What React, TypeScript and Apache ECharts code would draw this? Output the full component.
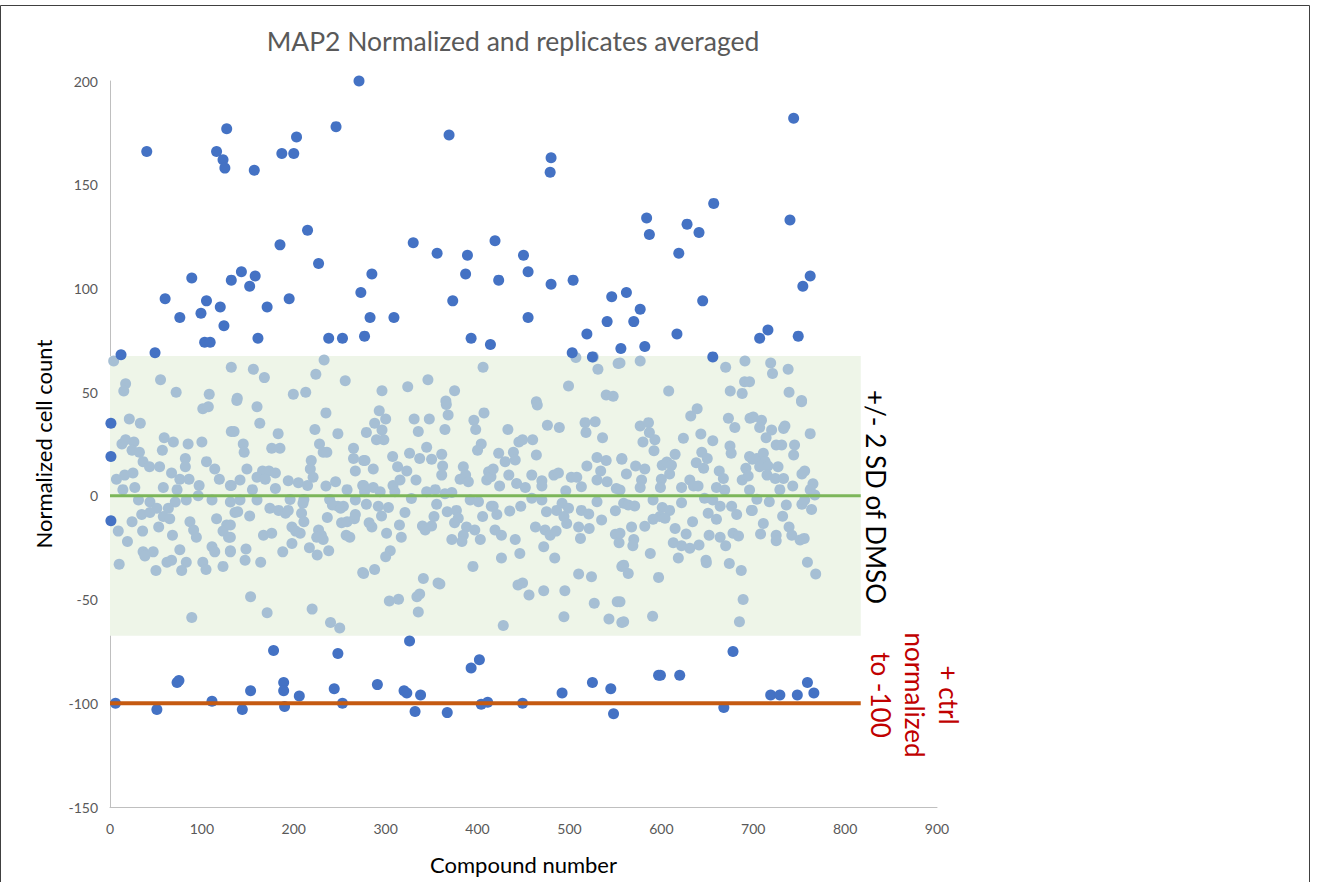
import React, { useEffect, useRef } from "react";
import * as echarts from "echarts";

// ---- data ----
const titleText = "MAP2 Normalized and replicates averaged";
const xTicks = { min: 0, max: 900, interval: 100 };
const yTicks = { min: -150, max: 200, interval: 50 };
const dmsoMean = 0;
const dmso2SD = 67.4;
const ctrlLevel = -100;
const refLineExtent = [0, 817];

// compounds inside +/- 2 SD of DMSO (compound number, normalized count)
const inBand: number[][] = [
  [17,54],[15,50.5],[55,56],[72,50],[108,49],[132,62],[4,65],
  [101,42],[107,43],[21,37],[33,35],[132,31],[132,5],
  [13,25],[17,27],[26,26],[24,22],[32,21],[59,28],[69,26],[57,22],[85,25],[100,26],[82,18],[82,14],[105,16.5],[114,13],[119,8],[36,16.5],[43,14],[54,14],[67,11],[76,8],[86,8],[7,8],[16,10],[25,11],[14,3],[27,4],[58,4],[73,3],[97,5],[31,-2],[43.5,-3],[71,-3],[83,-2],[96,0],[111,-2],[51,-6],[63.5,-6],[24,-12.5],[34.5,-9],[43.5,-8],[58,-10],[65,-11],[9,-17],[35.5,-17],[53,-15],[87,-12.5],[91,-16.5],[94,-20],[116,-11],[127,-14],[123,-17],[129,-20],[136,-8],[19,-22],[68,-19],[76,-26],[36,-27],[47,-27],[38,-29],[62,-32],[67,-31],[83,-32],[78,-36],[101,-32],[104.5,-35.5],[111,-24.5],[114,-27],[123,-34],[131,-26.5],[10,-33],[50,-36],[89,-58.6],
  [156,61],[168,57],[233,65.5],[224,58.6],[256,55.5],[138.5,47],[199.5,49],[213,50],
  [138,46],[160,43],[163,35],[235,40],[135,31],[183,30],[223,32],[248,30],[145,25],[146,21],[176,23],[185,23],[228,25],[232,21],[236,21],[265,23],[265,18],[276,17],[267,12],[219,17],[218,13],[221,9],[149,13],[166,12],[173,12],[180,11],[160,9],[169,8],[141.5,7.6],[131,5],[155,3],[180,3.6],[194,7.3],[205,6.3],[215,5],[235,4.7],[245.5,6.8],[258,3],[275,5],[277,2],[131,-3],[141.5,-2],[160,-2],[196,-1.7],[211,-1.7],[239,-1.7],[248,-5],[254,-5],[267,-2],[139,-7.7],[152,-9.7],[174,-6],[183.5,-7],[191,-8.4],[194,-7],[210,-3.6],[208.5,-8.4],[211,-12.5],[242,-4.4],[251,-6],[252,-13],[258,-12.5],[266,-11],[267,-9],[236.5,-10.4],[131,-14],[131,-20],[167,-19],[176,-18],[198,-15],[202,-17],[207,-18],[198,-23],[227,-16.5],[230,-19],[225,-20],[232,-21],[257,-19],[261,-20],[217,-25],[225.5,-28.5],[238,-26.5],[131,-27],[148,-25.6],[147,-31],[188,-27],[164,-32],[275,-37],[153,-48.6],[171,-56.4],[220,-54.6],[240,-61],[250,-63.7],
  [296,50.7],[324,52.6],[346,56],[375,50.7],[365.5,45.7],[406,62],
  [293,41],[279,30.6],[288,35],[296,31.7],[300,37],[290,27],[298,27],[331,37],[347.5,37],[335.5,31],[366,44],[368,39],[364.5,32],[396,36.5],[398,32],[407,40],[404,25],[400,22],[277.5,17],[286.5,13],[307.6,19],[313,14],[323,12],[326,20.5],[337,18],[344.6,23.4],[350,17.6],[361,20],[362,14.4],[361,10],[384.5,14],[381,8],[387,10],[390,6.8],[412,11.6],[410,7.6],[414.6,9.2],[276,5],[286.5,4],[294,2],[308,5],[315.6,7.6],[310,2],[333,7.6],[328,-1.3],[344.6,2],[354,3],[364.5,1],[372,1.6],[392,-2],[401,-2.8],[279,-4],[292,-5],[303,-5.6],[295.5,-9.7],[321,-8],[355.5,-4],[367,-7.7],[377,-7],[379,-10.8],[375,-13],[415,-5],[405.5,-10],[285,-15],[282,-13],[315,-14],[317,-20],[301,-18],[340,-14.5],[343,-16.5],[350,-14.5],[352.6,-10],[388,-15],[397,-16.5],[384.5,-19],[383,-22],[372,-21],[403,-21],[305,-26.5],[300,-29.4],[276,-37.4],[288,-35.5],[341,-39.8],[357,-42],[359,-42.5],[395,-34],[304,-50.7],[314,-49.8],[334,-48.6],[337,-47.3],[335.5,-56],
  [507,66.7],[526,67],[531,61],[553,63.8],[499,53],[540,48.6],[547.6,48],[464,45.4],
  [465,43.8],[433,32],[445,26],[449,27],[460,27],[476,34],[489,33],[517,35.3],[528,35.7],[518,30.6],[536,28],[423,20.5],[439,21],[464,19.7],[417,13],[430,16.5],[441,17.3],[434,10],[459,10],[470,7.3],[424,4.7],[442.5,6],[452,4],[470,4.7],[483,10],[488,11],[502,9],[508,9],[513,4.4],[496,2.5],[519,14.4],[530,18.5],[540,17],[534,12],[530,7.6],[541,6.8],[551,3.6],[557,17.6],[417,-5],[421,-9],[435,-7.3],[447,-5],[459,-1.2],[470,-2],[475,-7.7],[486,-7],[492,-3.6],[499,-6],[494,-10],[513,-7],[521,-8.8],[530,-2.8],[535,-11.6],[550,-7.2],[559,-3.6],[419,-16.5],[426,-19],[441,-21],[463,-15],[473.5,-16.5],[479,-19],[485.5,-17],[497,-13.3],[510,-15],[512,-20.5],[521.5,-15.7],[550,-18.5],[554,-22.6],[472,-24.5],[484,-30],[426,-30],[446,-27.8],[510,-37.7],[524,-39],[444,-43],[449,-42],[456,-47.8],[472,-45.7],[495,-45.7],[527,-51.8],[552,-51],[494,-58.3],[543,-59.4],[557,-61],[428,-62.5],[557,-34],
  [555,64],[577,65],[670,62],[691,65],[690.6,55],[688,49.4],[608,50.6],[675,50.6],
  [639,42],[632,38.5],[673,37.4],[680,33],[696.5,37.4],[577,33.7],[586,35.3],[587,30.5],[580,26],[593,27],[592,21.7],[624,27.8],[643,29.8],[656,26.6],[674.7,24],[676,20.5],[557,18],[562,10.5],[572,14.4],[582,13],[578.5,7.6],[577,4],[601,14.8],[606,16.3],[611,14.8],[609,10.5],[600,8],[599,4],[615,20],[644,21],[650,18],[638,16],[646,13.3],[622,4],[631,7.6],[635,4.7],[640,4.7],[663,12],[667.5,8.4],[660,4],[669,2.8],[692,13.3],[688,7.6],[694.5,9.6],[699,17.6],[555,2.8],[564,-4.4],[571,-4.9],[591,-2],[622,-3.3],[601,-5.6],[609,-7],[598.5,-10],[604,-10.8],[647,-1.2],[656,-2],[664,-5],[651,-8.4],[660,-11.3],[676.5,-5],[682,-9],[698,-7],[582,-14.6],[591,-11.3],[567.6,-15],[555,-18],[570,-21],[569,-24],[615,-15.7],[627,-18.4],[613,-22.6],[622,-24],[631,-25.3],[641,-23.7],[634,-12.5],[652,-19],[664,-20],[670,-24],[678,-18],[684,-19.4],[588,-27.8],[597,-39.3],[618.5,-30],[648.6,-31],[649,-32.2],[674,-32.6],[687,-36],[559,-33.4],[564,-37.4],[555,-51],[559,-60.7],[590.5,-58],[685,-60.7],[689,-50],
  [719,64],[721,59],[738,61],[739,50],[752.6,46],[696,55],
  [752.6,45.4],[700,38],[709,36.5],[707,33],[720,31.7],[714,28],[733,32.5],[734.5,33.7],[762,30],[725,24.5],[731,24.5],[745,24.5],[744,19.7],[696,19],[704,18],[711,20.5],[713,16.5],[707,14],[716,14.4],[727,14],[715,10],[724,8.4],[733,8.4],[743,4.7],[753,10.5],[756,12],[765,5.8],[762,3],[729,3],[696,2.8],[704,-1.6],[717.5,-2.8],[736,-4.4],[753,-4],[756,-2],[767,0.4],[699,-7],[732,-9.8],[763.5,-6.6],[711,-13.3],[708,-18.4],[739,-15],[725,-19],[725,-21.6],[742,-19],[751,-21.3],[755.5,-20.5],[759,-32],[768,-37.7],
];

// hits above the band
const hitsHigh: number[][] = [
  [1,35],[1,19],[1,-12],
  [12,68],[40,166],[49,69],[60,95],[76,86],[89,105],[99,88],[103,74],[105,94],[109,74],[116,166],[120,91],[123,162],[125,158],[124,82],[127,177],[132,104],[143,108],[152,101],[157,157],[158,106],[161,76],[171,91],[185,121],[187,165],[195,95],[200,165],[203,173],[215,128],[227,112],[238,76],[246,178],[253,76],[271,200],[273,98],[277,77],[283,86],[285,107],[309,86],[330,122],[356,117],[369,174],[373,94],[387,107],[389,116],[393,76],[414,73],[419,123],[423,104],[450,116],[455,108],[455,86],[480,163],[479,156],[480,102],[503,69],[504,104],[519,78],[525,67],[541,84],[546,96],[556,71],[562,98],[570,84],[577,90],[582,72],[584,134],[587,126],[619,117],[617,78],[628,131],[641,127],[645,94],[657,141],[656,67],[744,182],[740,133],[762,106],[754,101],[716,80],[707,76],[749,77],
];

// hits below the band (cell-loss, near the positive control)
const hitsLow: number[][] = [
  [6,-100],[51,-103],[73,-90],[75,-89],[111,-99],[144,-103],[153,-94],[178,-74.5],[189,-90],[189,-94],[190,-101.5],[206,-96.5],[248,-76],[244,-93],[253,-100],[326,-70],[291,-91],[320,-94],[323,-95],[338,-96],[332,-104],[367,-104.5],[402,-79],[393,-83],[404,-100.5],[411,-99.5],[449,-100],[492,-95],[525,-90],[545,-93],[548,-105],[597,-86.5],[599,-86.5],[620,-86.5],[678,-75],[668,-102],[719,-96],[729,-96],[748,-96],[759,-90],[766,-95],
];

const bandLabel = "+/- 2 SD of DMSO";
const ctrlLabel = "+ ctrl\nnormalized\nto -100";

const FONT = "Lato, 'Open Sans', sans-serif";

export default function App() {
  const ref = useRef<HTMLDivElement>(null);
  useEffect(() => {
    document.body.style.margin = "0";
    if (!ref.current) return;
    const chart = echarts.init(ref.current, undefined, { renderer: "svg" });
    const hits = hitsHigh.concat(hitsLow);
    chart.setOption({
      animation: false,
      backgroundColor: "#ffffff",
      textStyle: { fontFamily: FONT },
      title: {
        text: titleText,
        left: 508,
        top: 22,
        textAlign: "center",
        textStyle: { fontFamily: FONT, fontSize: 26.5, fontWeight: "normal", color: "#595959" },
      },
      grid: { left: 110, right: 380, top: 81, bottom: 75, containLabel: false },
      xAxis: {
        type: "value",
        min: xTicks.min,
        max: xTicks.max,
        interval: xTicks.interval,
        name: "Compound number",
        nameLocation: "middle",
        nameGap: 46,
        nameTextStyle: { fontFamily: FONT, fontSize: 22, color: "#000000" },
        axisLine: { show: true, onZero: false, lineStyle: { color: "#BFBFBF", width: 1 } },
        axisTick: { show: false },
        splitLine: { show: false },
        axisLabel: { color: "#595959", fontSize: 14, margin: 14, fontFamily: FONT },
      },
      yAxis: {
        type: "value",
        min: yTicks.min,
        max: yTicks.max,
        interval: yTicks.interval,
        name: "Normalized cell count",
        nameLocation: "middle",
        nameGap: 56,
        nameTextStyle: { fontFamily: FONT, fontSize: 22, color: "#000000" },
        axisLine: { show: true, onZero: false, lineStyle: { color: "#BFBFBF", width: 1 } },
        axisTick: { show: false },
        splitLine: { show: false },
        axisLabel: { color: "#595959", fontSize: 14, margin: 12, fontFamily: FONT },
      },
      series: [
        {
          type: "line",
          data: [],
          z: 0,
          silent: true,
          markArea: {
            silent: true,
            itemStyle: { color: "#EEF5E8" },
            data: [[{ coord: [refLineExtent[0], dmso2SD] }, { coord: [refLineExtent[1], -dmso2SD] }]],
          },
        },
        {
          type: "scatter",
          data: inBand,
          symbolSize: 11,
          z: 2,
          itemStyle: { color: "#A6BFD4", opacity: 1 },
        },
        {
          type: "scatter",
          data: hits,
          symbolSize: 11,
          z: 3,
          itemStyle: { color: "#4472C4", opacity: 1 },
        },
        {
          type: "line",
          data: [[refLineExtent[0], dmsoMean], [refLineExtent[1], dmsoMean]],
          symbol: "none",
          z: 4,
          lineStyle: { color: "#7CB65A", width: 3 },
        },
        {
          type: "line",
          data: [[refLineExtent[0], ctrlLevel], [refLineExtent[1], ctrlLevel]],
          symbol: "none",
          z: 4,
          lineStyle: { color: "#C55A11", width: 4 },
        },
      ],
      graphic: [
        {
          type: "rect",
          shape: { x: 0.5, y: 5.5, width: 1309, height: 900 },
          style: { fill: "none", stroke: "#404040", lineWidth: 1 },
          silent: true,
        },
        {
          type: "text",
          x: 876,
          y: 497,
          rotation: -Math.PI / 2,
          style: {
            text: bandLabel,
            fill: "#000000",
            font: `26px ${FONT}`,
            textAlign: "center",
            textVerticalAlign: "middle",
          },
        },
        {
          type: "text",
          x: 915,
          y: 695,
          rotation: -Math.PI / 2,
          style: {
            text: ctrlLabel,
            fill: "#C00000",
            font: `26px ${FONT}`,
            lineHeight: 34,
            textAlign: "center",
            textVerticalAlign: "middle",
          },
        },
      ],
    });
    return () => chart.dispose();
  }, []);
  return <div ref={ref} style={{ width: 1317, height: 882 }} />;
}
